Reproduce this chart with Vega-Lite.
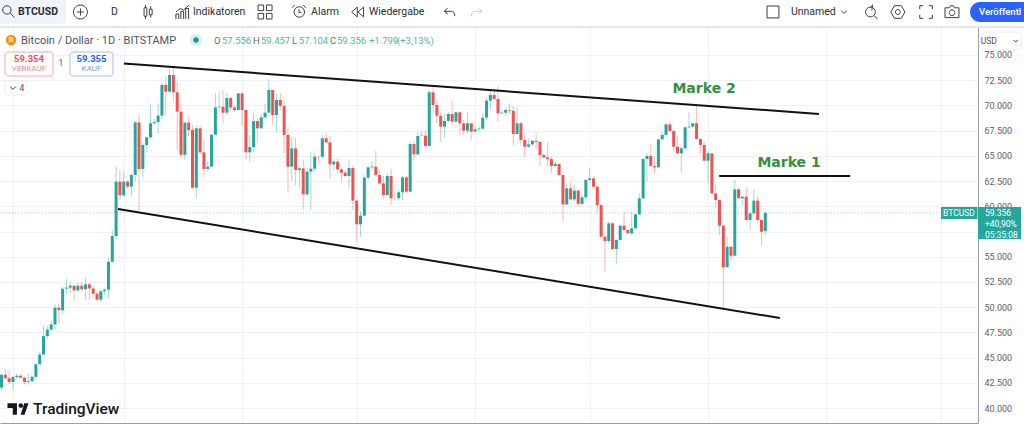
{
"$schema":"https://vega.github.io/schema/vega-lite/v6.json",
"width":978,"height":423,"autosize":{"type":"none"},"padding":{"left":0,"top":0,"right":46,"bottom":1},"background":"#ffffff",
"config":{"view":{"stroke":null},"font":"Roboto"},
"datasets":{
"candles":[
{"d":"2024-01-29","o":42030,"h":43400,"l":41780,"c":43300},{"d":"2024-01-30","o":43300,"h":43870,"l":42850,"c":42950},{"d":"2024-01-31","o":42950,"h":43700,"l":42400,"c":42580},{"d":"2024-02-01","o":42580,"h":43200,"l":41850,"c":43080},{"d":"2024-02-02","o":43080,"h":43420,"l":42900,"c":43200},{"d":"2024-02-03","o":43200,"h":43350,"l":42900,"c":43010},{"d":"2024-02-04","o":43010,"h":43100,"l":42350,"c":42580},{"d":"2024-02-05","o":42580,"h":43400,"l":42300,"c":42660},{"d":"2024-02-06","o":42660,"h":43300,"l":42600,"c":43090},{"d":"2024-02-07","o":43090,"h":44400,"l":42800,"c":44340},{"d":"2024-02-08","o":44340,"h":45600,"l":44300,"c":45300},{"d":"2024-02-09","o":45300,"h":48200,"l":45250,"c":47130},{"d":"2024-02-10","o":47130,"h":48150,"l":46900,"c":47770},{"d":"2024-02-11","o":47770,"h":48600,"l":47600,"c":48290},{"d":"2024-02-12","o":48290,"h":50300,"l":47800,"c":49950},{"d":"2024-02-13","o":49950,"h":50400,"l":48400,"c":49700},{"d":"2024-02-14","o":49700,"h":52000,"l":49300,"c":51830},{"d":"2024-02-15","o":51830,"h":52800,"l":51300,"c":51940},{"d":"2024-02-16","o":51940,"h":52600,"l":51400,"c":52130},{"d":"2024-02-17","o":52130,"h":52200,"l":50700,"c":51660},{"d":"2024-02-18","o":51660,"h":52400,"l":51500,"c":52120},{"d":"2024-02-19","o":52120,"h":52500,"l":51550,"c":51780},{"d":"2024-02-20","o":51780,"h":53000,"l":50700,"c":52260},{"d":"2024-02-21","o":52260,"h":52400,"l":50700,"c":51850},{"d":"2024-02-22","o":51850,"h":52050,"l":50900,"c":51320},{"d":"2024-02-23","o":51320,"h":51500,"l":50550,"c":50740},{"d":"2024-02-24","o":50740,"h":51700,"l":50500,"c":51570},{"d":"2024-02-25","o":51570,"h":51950,"l":51200,"c":51730},{"d":"2024-02-26","o":51730,"h":54900,"l":50900,"c":54500},{"d":"2024-02-27","o":54500,"h":57600,"l":54450,"c":57050},{"d":"2024-02-28","o":57050,"h":63930,"l":56700,"c":62440},{"d":"2024-02-29","o":62440,"h":63600,"l":60620,"c":61090},
{"d":"2024-03-01","o":61090,"h":63430,"l":60900,"c":62440},{"d":"2024-03-02","o":62440,"h":62600,"l":61700,"c":61950},{"d":"2024-03-03","o":61950,"h":63300,"l":61000,"c":63100},{"d":"2024-03-04","o":63100,"h":68400,"l":62500,"c":68320},{"d":"2024-03-05","o":68320,"h":69150,"l":59470,"c":63700},{"d":"2024-03-06","o":63700,"h":66300,"l":62870,"c":66080},{"d":"2024-03-07","o":66080,"h":66900,"l":65400,"c":66840},{"d":"2024-03-08","o":66840,"h":70100,"l":66700,"c":68230},{"d":"2024-03-09","o":68230,"h":68700,"l":68100,"c":68350},{"d":"2024-03-10","o":68350,"h":70200,"l":67170,"c":68990},{"d":"2024-03-11","o":68990,"h":72190,"l":68630,"c":72025},{"d":"2024-03-12","o":72025,"h":72850,"l":69050,"c":71360},{"d":"2024-03-13","o":71360,"h":73580,"l":71300,"c":73020},{"d":"2024-03-14","o":73020,"h":73840,"l":70370,"c":71300},{"d":"2024-03-15","o":71300,"h":72350,"l":65580,"c":69380},{"d":"2024-03-16","o":69380,"h":70240,"l":64920,"c":65100},{"d":"2024-03-17","o":65100,"h":68400,"l":64590,"c":68290},{"d":"2024-03-18","o":68290,"h":68880,"l":66900,"c":67560},{"d":"2024-03-19","o":67560,"h":68060,"l":61780,"c":61840},{"d":"2024-03-20","o":61840,"h":68060,"l":60790,"c":67730},{"d":"2024-03-21","o":67730,"h":68000,"l":65250,"c":65350},{"d":"2024-03-22","o":65350,"h":66570,"l":62930,"c":63700},{"d":"2024-03-23","o":63700,"h":64500,"l":63400,"c":63930},{"d":"2024-03-24","o":63930,"h":67100,"l":63900,"c":67100},{"d":"2024-03-25","o":67100,"h":71200,"l":67050,"c":69800},{"d":"2024-03-26","o":69800,"h":71400,"l":69500,"c":69870},{"d":"2024-03-27","o":69870,"h":71530,"l":68230,"c":69280},{"d":"2024-03-28","o":69280,"h":71200,"l":69000,"c":70740},{"d":"2024-03-29","o":70740,"h":70800,"l":69500,"c":69800},{"d":"2024-03-30","o":69800,"h":70000,"l":69400,"c":69550},{"d":"2024-03-31","o":69550,"h":71200,"l":69500,"c":71200},
{"d":"2024-04-01","o":71200,"h":71250,"l":68060,"c":69550},{"d":"2024-04-02","o":69550,"h":69600,"l":64590,"c":65350},{"d":"2024-04-03","o":65350,"h":67060,"l":64420,"c":65880},{"d":"2024-04-04","o":65880,"h":69220,"l":65400,"c":68450},{"d":"2024-04-05","o":68450,"h":68700,"l":66400,"c":67730},{"d":"2024-04-06","o":67730,"h":69150,"l":67700,"c":68820},{"d":"2024-04-07","o":68820,"h":70200,"l":68800,"c":69280},{"d":"2024-04-08","o":69280,"h":72620,"l":69250,"c":71530},{"d":"2024-04-09","o":71530,"h":71530,"l":68060,"c":69050},{"d":"2024-04-10","o":69050,"h":71200,"l":67400,"c":70540},{"d":"2024-04-11","o":70540,"h":71200,"l":69500,"c":69950},{"d":"2024-04-12","o":69950,"h":70500,"l":65280,"c":67070},{"d":"2024-04-13","o":67070,"h":67900,"l":61320,"c":63930},{"d":"2024-04-14","o":63930,"h":66900,"l":62500,"c":65745},{"d":"2024-04-15","o":65745,"h":66800,"l":62110,"c":63600},{"d":"2024-04-16","o":63600,"h":64000,"l":61800,"c":63760},{"d":"2024-04-17","o":63760,"h":64600,"l":59700,"c":61185},{"d":"2024-04-18","o":61185,"h":63800,"l":61000,"c":63430},{"d":"2024-04-19","o":63430,"h":65400,"l":59630,"c":63730},{"d":"2024-04-20","o":63730,"h":65250,"l":63430,"c":64920},{"d":"2024-04-21","o":64920,"h":65000,"l":64260,"c":64900},{"d":"2024-04-22","o":64900,"h":67070,"l":64755,"c":66740},{"d":"2024-04-23","o":66740,"h":67170,"l":66240,"c":66340},{"d":"2024-04-24","o":66340,"h":66970,"l":62770,"c":64160},{"d":"2024-04-25","o":64160,"h":64755,"l":63600,"c":64420},{"d":"2024-04-26","o":64420,"h":64755,"l":63270,"c":63660},{"d":"2024-04-27","o":63660,"h":63760,"l":62440,"c":63330},{"d":"2024-04-28","o":63330,"h":63600,"l":62870,"c":63000},{"d":"2024-04-29","o":63000,"h":64590,"l":61780,"c":63800},{"d":"2024-04-30","o":63800,"h":64000,"l":59630,"c":60560},
{"d":"2024-05-01","o":60560,"h":60600,"l":56490,"c":58210},{"d":"2024-05-02","o":58210,"h":59500,"l":56990,"c":59070},{"d":"2024-05-03","o":59070,"h":63100,"l":59000,"c":62840},{"d":"2024-05-04","o":62840,"h":64000,"l":62600,"c":63860},{"d":"2024-05-05","o":63860,"h":64500,"l":63600,"c":63930},{"d":"2024-05-06","o":63930,"h":65480,"l":62940,"c":63100},{"d":"2024-05-07","o":63100,"h":63600,"l":62110,"c":62270},{"d":"2024-05-08","o":62270,"h":63000,"l":60790,"c":61120},{"d":"2024-05-09","o":61120,"h":63270,"l":61000,"c":63000},{"d":"2024-05-10","o":63000,"h":63760,"l":60130,"c":60790},{"d":"2024-05-11","o":60790,"h":61450,"l":60620,"c":60800},{"d":"2024-05-12","o":60800,"h":61620,"l":60560,"c":61380},{"d":"2024-05-13","o":61380,"h":63000,"l":60620,"c":62870},{"d":"2024-05-14","o":62870,"h":63000,"l":61290,"c":61450},{"d":"2024-05-15","o":61450,"h":66400,"l":61350,"c":66175},{"d":"2024-05-16","o":66175,"h":66500,"l":64590,"c":65150},{"d":"2024-05-17","o":65150,"h":67400,"l":65080,"c":66970},{"d":"2024-05-18","o":66970,"h":67460,"l":66900,"c":67000},{"d":"2024-05-19","o":67000,"h":67560,"l":65850,"c":65980},{"d":"2024-05-20","o":65980,"h":71530,"l":65880,"c":71300},{"d":"2024-05-21","o":71300,"h":71860,"l":69220,"c":70040},{"d":"2024-05-22","o":70040,"h":70540,"l":68225,"c":68985},{"d":"2024-05-23","o":68985,"h":69380,"l":66400,"c":67895},{"d":"2024-05-24","o":67895,"h":69220,"l":66740,"c":68460},{"d":"2024-05-25","o":68460,"h":69380,"l":68390,"c":69150},{"d":"2024-05-26","o":69150,"h":70470,"l":68060,"c":68390},{"d":"2024-05-27","o":68390,"h":69380,"l":68320,"c":69320},{"d":"2024-05-28","o":69320,"h":69380,"l":67070,"c":68225},{"d":"2024-05-29","o":68225,"h":68555,"l":67070,"c":67500},{"d":"2024-05-30","o":67500,"h":69380,"l":67230,"c":68225},{"d":"2024-05-31","o":68225,"h":68225,"l":66570,"c":67400},
{"d":"2024-06-01","o":67400,"h":67900,"l":67300,"c":67630},{"d":"2024-06-02","o":67630,"h":67900,"l":67400,"c":67700},{"d":"2024-06-03","o":67700,"h":69200,"l":67550,"c":68786},{"d":"2024-06-04","o":68786,"h":70700,"l":68500,"c":70470},{"d":"2024-06-05","o":70470,"h":71530,"l":69550,"c":71030},{"d":"2024-06-06","o":71030,"h":71530,"l":70540,"c":70640},{"d":"2024-06-07","o":70640,"h":71926,"l":68390,"c":69216},{"d":"2024-06-08","o":69216,"h":69550,"l":69150,"c":69280},{"d":"2024-06-09","o":69280,"h":69710,"l":69050,"c":69550},{"d":"2024-06-10","o":69550,"h":70140,"l":69150,"c":69480},{"d":"2024-06-11","o":69480,"h":69940,"l":66080,"c":67170},{"d":"2024-06-12","o":67170,"h":69880,"l":67070,"c":68225},{"d":"2024-06-13","o":68225,"h":68390,"l":66080,"c":66570},{"d":"2024-06-14","o":66570,"h":67230,"l":64920,"c":65910},{"d":"2024-06-15","o":65910,"h":66730,"l":65810,"c":66140},{"d":"2024-06-16","o":66140,"h":66570,"l":65980,"c":66500},{"d":"2024-06-17","o":66500,"h":67230,"l":65580,"c":66380},{"d":"2024-06-18","o":66380,"h":66470,"l":63990,"c":65085},{"d":"2024-06-19","o":65085,"h":65250,"l":64750,"c":64850},{"d":"2024-06-20","o":64850,"h":66400,"l":63930,"c":64680},{"d":"2024-06-21","o":64680,"h":64920,"l":63330,"c":63990},{"d":"2024-06-22","o":63990,"h":64420,"l":63860,"c":64190},{"d":"2024-06-23","o":64190,"h":64260,"l":63100,"c":63100},{"d":"2024-06-24","o":63100,"h":63100,"l":58475,"c":60190},{"d":"2024-06-25","o":60190,"h":62270,"l":60130,"c":61780},{"d":"2024-06-26","o":61780,"h":62340,"l":60620,"c":60690},{"d":"2024-06-27","o":60690,"h":62110,"l":60460,"c":61550},{"d":"2024-06-28","o":61550,"h":61680,"l":59960,"c":60230},{"d":"2024-06-29","o":60230,"h":61120,"l":60130,"c":60885},{"d":"2024-06-30","o":60885,"h":62770,"l":60690,"c":62610},
{"d":"2024-07-01","o":62610,"h":63760,"l":62440,"c":62770},{"d":"2024-07-02","o":62770,"h":62940,"l":61780,"c":61945},{"d":"2024-07-03","o":61945,"h":62010,"l":59300,"c":60125},{"d":"2024-07-04","o":60125,"h":60200,"l":56800,"c":56990},{"d":"2024-07-05","o":56990,"h":57000,"l":53520,"c":56560},{"d":"2024-07-06","o":56560,"h":58480,"l":56330,"c":58310},{"d":"2024-07-07","o":58310,"h":58380,"l":55660,"c":55760},{"d":"2024-07-08","o":55760,"h":56723,"l":54345,"c":56660},{"d":"2024-07-09","o":56660,"h":58150,"l":56590,"c":58080},{"d":"2024-07-10","o":58080,"h":59470,"l":57480,"c":57650},{"d":"2024-07-11","o":57650,"h":57750,"l":57250,"c":57320},{"d":"2024-07-12","o":57320,"h":59470,"l":57150,"c":57820},{"d":"2024-07-13","o":57820,"h":59300,"l":57650,"c":59200},{"d":"2024-07-14","o":59200,"h":61280,"l":59100,"c":60790},{"d":"2024-07-15","o":60790,"h":64750,"l":60700,"c":64690},{"d":"2024-07-16","o":64690,"h":65250,"l":62440,"c":64990},{"d":"2024-07-17","o":64990,"h":66077,"l":63920,"c":63995},{"d":"2024-07-18","o":63995,"h":64920,"l":63270,"c":63860},{"d":"2024-07-19","o":63860,"h":66640,"l":63830,"c":66640},{"d":"2024-07-20","o":66640,"h":67400,"l":66570,"c":67070},{"d":"2024-07-21","o":67070,"h":68225,"l":67070,"c":68125},{"d":"2024-07-22","o":68125,"h":68390,"l":67400,"c":67465},{"d":"2024-07-23","o":67465,"h":67565,"l":65420,"c":65910},{"d":"2024-07-24","o":65910,"h":66900,"l":65250,"c":65250},{"d":"2024-07-25","o":65250,"h":65900,"l":63370,"c":65745},{"d":"2024-07-26","o":65745,"h":67900,"l":65650,"c":67830},{"d":"2024-07-27","o":67830,"h":69280,"l":67730,"c":67900},{"d":"2024-07-28","o":67900,"h":68225,"l":67790,"c":68225},{"d":"2024-07-29","o":68225,"h":69940,"l":66640,"c":66670},{"d":"2024-07-30","o":66670,"h":66740,"l":65250,"c":66075},{"d":"2024-07-31","o":66075,"h":66410,"l":64420,"c":64520},
{"d":"2024-08-01","o":64520,"h":65420,"l":62280,"c":65250},{"d":"2024-08-02","o":65250,"h":65250,"l":61220,"c":61285},{"d":"2024-08-03","o":61285,"h":62110,"l":59900,"c":60620},{"d":"2024-08-04","o":60620,"h":60650,"l":57150,"c":58080},{"d":"2024-08-05","o":58080,"h":58150,"l":49717,"c":53950},{"d":"2024-08-06","o":53950,"h":56990,"l":53950,"c":55990},{"d":"2024-08-07","o":55990,"h":55990,"l":54670,"c":55100},{"d":"2024-08-08","o":55100,"h":62600,"l":55050,"c":61680},{"d":"2024-08-09","o":61680,"h":61780,"l":60790,"c":60790},{"d":"2024-08-10","o":60790,"h":60950,"l":60130,"c":60950},{"d":"2024-08-11","o":60950,"h":61780,"l":58590,"c":58640},{"d":"2024-08-12","o":58640,"h":59450,"l":57650,"c":59300},{"d":"2024-08-13","o":59300,"h":61615,"l":59100,"c":60560},{"d":"2024-08-14","o":60560,"h":61000,"l":58300,"c":58640},{"d":"2024-08-15","o":58640,"h":58640,"l":56160,"c":57480},{"d":"2024-08-16","o":57556,"h":59457,"l":57104,"c":59356}
],
"trend":[
{"id":"oben","d":"2024-03-01T01:00:00Z","p":74157},{"id":"oben","d":"2024-08-30T01:00:00Z","p":69150},
{"id":"unten","d":"2024-02-28T12:00:00Z","p":59731},{"id":"unten","d":"2024-08-19T19:00:00Z","p":48924},
{"id":"marke1","d":"2024-08-03T22:00:00Z","p":63003},{"id":"marke1","d":"2024-09-07T05:00:00Z","p":63003}
],
"marke":[{"t":"Marke 2","d":"2024-07-30T23:00:00Z","p":71630},{"t":"Marke 1","d":"2024-08-22T05:00:00Z","p":64290}],
"band":[{"d":"2024-01-28T14:24:00Z","d2":"2024-10-22T17:30:00Z","p":80453,"p2":77875}],
"border":[{"d":"2024-01-28T14:24:00Z","d2":"2024-10-22T17:30:00Z","p":77875,"p2":77677}],
"search":[{"d":"2024-01-28T14:24:00Z","d2":"2024-02-14T21:00:00Z","p":80453,"p2":78073}],
"button":[{"d":"2024-10-08T14:24:00Z","d2":"2024-10-25T00:00:00Z","p":80255,"p2":78272}],
"sellbox":[{"d":"2024-01-29T22:00:00Z","d2":"2024-02-11T11:30:00Z","p":75297,"p2":72918}],
"buybox":[{"d":"2024-02-15T22:20:00Z","d2":"2024-02-27T04:30:00Z","p":75297,"p2":72918}],
"chipbox":[{"d":"2024-01-29T22:00:00Z","d2":"2024-02-04T16:00:00Z","p":72422,"p2":71034},{"d":"2024-10-11T11:00:00Z","d2":"2024-10-21T23:00:00Z","p":77280,"p2":75496}],
"tags":[{"d":"2024-10-01T00:00:00Z","d2":"2024-10-10T13:30:00Z","p":59929,"p2":58739},{"d":"2024-10-10T16:30:00Z","d2":"2024-10-21T23:00:00Z","p":59929,"p2":56757}],
"tool":[{"t":"D","d":"2024-02-26T16:00:00Z","p":79263},{"t":"Indikatoren","d":"2024-03-19T03:00:00Z","p":79263},{"t":"Alarm","d":"2024-04-19T01:00:00Z","p":79263},{"t":"Wiedergabe","d":"2024-05-04T05:00:00Z","p":79263},{"t":"Unnamed","d":"2024-08-22T17:00:00Z","p":79263}],
"tool2":[{"t":"BTCUSD","d":"2024-02-02T07:30:00Z","p":79263}],
"publish":[{"t":"Veröffentl","d":"2024-10-10T23:00:00Z","p":79263}],
"title":[{"t":"Bitcoin / Dollar · 1D · BITSTAMP","d":"2024-02-03T02:30:00Z","p":76388}],
"ohlcKey":[{"t":"O","d":"2024-03-24T15:30:00Z","p":76388},{"t":"H","d":"2024-04-03T20:30:00Z","p":76388},{"t":"L","d":"2024-04-14T01:30:00Z","p":76388},{"t":"C","d":"2024-04-24T00:15:00Z","p":76388}],
"ohlcVal":[{"t":"57.556","d":"2024-03-26T17:30:00Z","p":76388},{"t":"59.457","d":"2024-04-05T22:30:00Z","p":76388},{"t":"57.104","d":"2024-04-15T21:30:00Z","p":76388},{"t":"59.356","d":"2024-04-25T20:00:00Z","p":76388},{"t":"+1.799","d":"2024-05-04T05:00:00Z","p":76388},{"t":"(+3,13%)","d":"2024-05-11T13:00:00Z","p":76388}],
"sell":[{"t":"59.354","d":"2024-02-05T04:30:00Z","p":74603}],
"sellLab":[{"t":"VERKAUF","d":"2024-02-05T04:30:00Z","p":73612}],
"buy":[{"t":"59.355","d":"2024-02-21T13:30:00Z","p":74603}],
"buyLab":[{"t":"KAUF","d":"2024-02-21T13:30:00Z","p":73612}],
"small":[{"t":"1","d":"2024-02-13T13:30:00Z","p":74207},{"t":"4","d":"2024-02-03T08:30:00Z","p":71728},{"t":"USD","d":"2024-10-13T12:00:00Z","p":76388}],
"tagText":[{"t":"BTCUSD","d":"2024-10-05T17:00:00Z","p":59334}],
"tagVals":[{"t":"59.356","d":"2024-10-12T12:00:00Z","p":59285},{"t":"+40,90%","d":"2024-10-12T12:00:00Z","p":58200},{"t":"05:35:08","d":"2024-10-12T12:00:00Z","p":57200}],
"brand":[{"t":"TradingView","d":"2024-02-06T06:00:00Z","p":39900}],
"icons":[
{"d":"2024-01-30T23:00:00Z","p":79263,"s":"M-0.9,-0.3A0.6,0.6 0 1 1 0.3,-0.3A0.6,0.6 0 1 1 -0.9,-0.3M0.15,0.15L0.8,0.8"},
{"d":"2024-02-18T16:00:00Z","p":79263,"s":"M-1,0A1,1 0 1 1 1,0A1,1 0 1 1 -1,0M-0.5,0H0.5M0,-0.5V0.5"},
{"d":"2024-03-07T08:00:00Z","p":79263,"s":"M-0.55,-0.6h0.4v1.2h-0.4zM-0.35,-1V-0.6M-0.35,0.6V1M0.2,-0.4h0.4v0.8h-0.4zM0.4,-0.8V-0.4M0.4,0.4V0.8"},
{"d":"2024-03-16T12:00:00Z","p":79263,"s":"M-1,1V0.3H-0.6V1M-0.3,1V-0.1H0.1V1M0.4,1V-0.5H0.8V1M-1,0L-0.4,-0.5L0.1,-0.3L0.9,-1"},
{"d":"2024-04-07T00:00:00Z","p":79263,"s":"M-1,-1h0.8v0.8h-0.8zM0.2,-1h0.8v0.8h-0.8zM-1,0.2h0.8v0.8h-0.8zM0.2,0.2h0.8v0.8h-0.8z"},
{"d":"2024-04-15T21:00:00Z","p":79263,"s":"M-0.7,0A0.75,0.75 0 1 1 0.8,0A0.75,0.75 0 1 1 -0.7,0M0,-0.4V0.05H0.35M-1,-0.6L-0.6,-1M1,-0.6L0.6,-1"},
{"d":"2024-05-01T08:00:00Z","p":79263,"s":"M-0.1,-0.7L-0.9,0L-0.1,0.7zM0.8,-0.7L0,0L0.8,0.7z"},
{"d":"2024-05-25T05:00:00Z","p":79263,"s":"M-0.7,-0.1L-0.2,-0.6M-0.7,-0.1L-0.2,0.3M-0.7,-0.1H0.3Q0.8,-0.1 0.8,0.6"},
{"d":"2024-08-18T00:00:00Z","p":79263,"s":"M-0.85,-0.85h1.7v1.7h-1.7z"},
{"d":"2024-09-05T14:00:00Z","p":79263,"s":"M-0.4,-0.2L0,0.2L0.4,-0.2"},
{"d":"2024-09-12T17:00:00Z","p":79263,"s":"M-0.8,0A0.7,0.7 0 1 1 0.6,0A0.7,0.7 0 1 1 -0.8,0M0.4,0.5L0.9,1M-0.1,-0.7L0.2,-1L0.1,-0.2"},
{"d":"2024-09-19T17:00:00Z","p":79263,"s":"M-1,0L-0.5,-0.9H0.5L1,0L0.5,0.9H-0.5zM-0.35,0A0.35,0.35 0 1 1 0.35,0A0.35,0.35 0 1 1 -0.35,0"},
{"d":"2024-09-27T02:00:00Z","p":79263,"s":"M-0.9,-0.4V-0.9H-0.4M0.4,-0.9H0.9V-0.4M0.9,0.4V0.9H0.4M-0.4,0.9H-0.9V0.4"},
{"d":"2024-10-03T21:00:00Z","p":79263,"s":"M-1,-0.6H-0.4L-0.2,-0.9H0.2L0.4,-0.6H1V0.8H-1zM-0.4,0.1A0.4,0.4 0 1 1 0.4,0.1A0.4,0.4 0 1 1 -0.4,0.1"},
{"d":"2024-02-01T00:00:00Z","p":71728,"s":"M-0.4,-0.2L0,0.2L0.4,-0.2"},
{"d":"2024-10-20T14:00:00Z","p":76388,"s":"M-0.3,-0.15L0,0.15L0.3,-0.15"}
],
"iconFaint":[{"d":"2024-06-01T12:00:00Z","p":79263,"s":"M0.7,-0.1L0.2,-0.6M0.7,-0.1L0.2,0.3M0.7,-0.1H-0.3Q-0.8,-0.1 -0.8,0.6"}],
"logo":[{"d":"2024-02-02T07:30:00Z","p":39900,"s":"M-1,-0.55H-0.1V0.55H-0.5V-0.1H-1zM0.05,-0.33A0.22,0.22 0 1 1 0.49,-0.33A0.22,0.22 0 1 1 0.05,-0.33M0.25,0.55L0.6,-0.55H1L0.62,0.55z"}],
"coin":[{"d":"2024-01-31T12:00:00Z","p":76487}],
"coinD":[{"t":"B","d":"2024-01-31T12:00:00Z","p":76487}],
"live":[{"d":"2024-03-19T22:00:00Z","p":76487}],
"last":[{"p":59356}]
},
"encoding":{
"x":{"field":"d","type":"temporal","scale":{"type":"utc","padding":0,"nice":false,"domain":["2024-01-28T14:24:00Z","2024-10-10T16:30:00Z"]},"axis":{"title":null,"labels":false,"ticks":false,"domain":true,"domainColor":"#9a9ea8","domainWidth":1,"grid":true,"gridColor":"#eef2f6","gridWidth":1,"values":["2024-02-01","2024-03-01","2024-04-01","2024-05-01","2024-06-01","2024-07-01","2024-08-01","2024-09-01","2024-10-01"]}},
"y":{"field":"p","type":"quantitative","scale":{"domain":[38513,80453],"nice":false,"zero":false},"axis":{"orient":"right","title":null,"ticks":false,"domain":true,"domainColor":"#9a9ea8","domainWidth":1,"grid":true,"gridColor":"#eef2f6","gridWidth":1,"labelFont":"Roboto","labelFontSize":9,"labelColor":"#5d606b","labelPadding":6,"values":[40000,42500,45000,47500,50000,52500,55000,57500,60000,62500,65000,67500,70000,72500,75000],"labelExpr":"replace(format(datum.value,','),',','.')"}}
},
"layer":[
{"data":{"name":"last"},"mark":{"type":"rule","color":"#26a69a","strokeDash":[1,2],"opacity":0.45,"strokeWidth":1},"encoding":{"x":{"value":0},"x2":{"value":978}}},
{"data":{"name":"candles"},"mark":{"type":"rule","strokeWidth":1,"opacity":0.42},"encoding":{"y":{"field":"l","type":"quantitative","scale":{"domain":[38513,80453],"nice":false,"zero":false},"axis":{"orient":"right","title":null,"ticks":false,"domain":true,"domainColor":"#9a9ea8","domainWidth":1,"grid":true,"gridColor":"#eef2f6","gridWidth":1,"labelFont":"Roboto","labelFontSize":9,"labelColor":"#5d606b","labelPadding":6,"values":[40000,42500,45000,47500,50000,52500,55000,57500,60000,62500,65000,67500,70000,72500,75000],"labelExpr":"replace(format(datum.value,','),',','.')"}},"y2":{"field":"h"},"color":{"condition":{"test":"datum.c>=datum.o","value":"#26a69a"},"value":"#ef5350"}}},
{"data":{"name":"candles"},"mark":{"type":"bar","size":3},"encoding":{"y":{"field":"o","type":"quantitative","scale":{"domain":[38513,80453],"nice":false,"zero":false},"axis":{"orient":"right","title":null,"ticks":false,"domain":true,"domainColor":"#9a9ea8","domainWidth":1,"grid":true,"gridColor":"#eef2f6","gridWidth":1,"labelFont":"Roboto","labelFontSize":9,"labelColor":"#5d606b","labelPadding":6,"values":[40000,42500,45000,47500,50000,52500,55000,57500,60000,62500,65000,67500,70000,72500,75000],"labelExpr":"replace(format(datum.value,','),',','.')"}},"y2":{"field":"c"},"color":{"condition":{"test":"datum.c>=datum.o","value":"#26a69a"},"value":"#ef5350"}}},
{"data":{"name":"trend"},"mark":{"type":"line","color":"#111111","strokeWidth":2},"encoding":{"detail":{"field":"id"}}},
{"data":{"name":"marke"},"mark":{"type":"text","font":"DejaVu Sans","fontWeight":"bold","fontSize":14,"color":"#35903c","align":"center","baseline":"middle"},"encoding":{"text":{"field":"t"}}},
{"data":{"name":"band"},"mark":{"type":"rect","color":"#ffffff"},"encoding":{"x2":{"field":"d2"},"y2":{"field":"p2"}}},
{"data":{"name":"border"},"mark":{"type":"rect","color":"#e2e5ec"},"encoding":{"x2":{"field":"d2"},"y2":{"field":"p2"}}},
{"data":{"name":"search"},"mark":{"type":"rect","color":"#f0f3fa","cornerRadiusBottomRight":4},"encoding":{"x2":{"field":"d2"},"y2":{"field":"p2"}}},
{"data":{"name":"button"},"mark":{"type":"rect","color":"#2962ff","cornerRadius":10},"encoding":{"x2":{"field":"d2"},"y2":{"field":"p2"}}},
{"data":{"name":"sellbox"},"mark":{"type":"rect","fill":"#ffffff","stroke":"#f7a9a8","strokeWidth":1,"cornerRadius":3},"encoding":{"x2":{"field":"d2"},"y2":{"field":"p2"}}},
{"data":{"name":"buybox"},"mark":{"type":"rect","fill":"#ffffff","stroke":"#a6bcff","strokeWidth":1,"cornerRadius":3},"encoding":{"x2":{"field":"d2"},"y2":{"field":"p2"}}},
{"data":{"name":"chipbox"},"mark":{"type":"rect","fill":"#ffffff","stroke":"#e8eaf0","strokeWidth":1,"cornerRadius":3},"encoding":{"x2":{"field":"d2"},"y2":{"field":"p2"}}},
{"data":{"name":"tags"},"mark":{"type":"rect","color":"#26a69a"},"encoding":{"x2":{"field":"d2"},"y2":{"field":"p2"}}},
{"data":{"name":"icons"},"mark":{"type":"point","size":196,"filled":false,"stroke":"#3a3e48","strokeWidth":1,"opacity":1},"encoding":{"shape":{"field":"s","type":"nominal","scale":null}}},
{"data":{"name":"iconFaint"},"mark":{"type":"point","size":196,"filled":false,"stroke":"#c8cbd3","strokeWidth":1,"opacity":1},"encoding":{"shape":{"field":"s","type":"nominal","scale":null}}},
{"data":{"name":"logo"},"mark":{"type":"point","size":441,"filled":true,"fill":"#131722","opacity":1},"encoding":{"shape":{"field":"s","type":"nominal","scale":null}}},
{"data":{"name":"coin"},"mark":{"type":"point","shape":"circle","size":110,"filled":true,"fill":"#f7931a","opacity":1},"encoding":{}},
{"data":{"name":"coinD"},"mark":{"type":"text","fontSize":7,"fontWeight":"bold","color":"#ffffff","align":"center","baseline":"middle"},"encoding":{"text":{"field":"t"}}},
{"data":{"name":"live"},"mark":{"type":"point","shape":"circle","size":150,"filled":true,"fill":"#d9efec","opacity":1},"encoding":{}},
{"data":{"name":"live"},"mark":{"type":"point","shape":"circle","size":30,"filled":true,"fill":"#189a8c","opacity":1},"encoding":{}},
{"data":{"name":"tool"},"mark":{"type":"text","fontSize":10.5,"color":"#2a2e39","align":"left","baseline":"middle"},"encoding":{"text":{"field":"t"}}},
{"data":{"name":"tool2"},"mark":{"type":"text","fontSize":10.5,"fontWeight":"bold","color":"#2a2e39","align":"left","baseline":"middle"},"encoding":{"text":{"field":"t"}}},
{"data":{"name":"publish"},"mark":{"type":"text","fontSize":9.5,"fontWeight":500,"color":"#ffffff","align":"left","baseline":"middle"},"encoding":{"text":{"field":"t"}}},
{"data":{"name":"title"},"mark":{"type":"text","fontSize":11,"color":"#50535e","align":"left","baseline":"middle"},"encoding":{"text":{"field":"t"}}},
{"data":{"name":"ohlcKey"},"mark":{"type":"text","fontSize":9.5,"color":"#6a6d78","align":"left","baseline":"middle"},"encoding":{"text":{"field":"t"}}},
{"data":{"name":"ohlcVal"},"mark":{"type":"text","fontSize":9.5,"color":"#4db6a9","align":"left","baseline":"middle"},"encoding":{"text":{"field":"t"}}},
{"data":{"name":"sell"},"mark":{"type":"text","fontSize":9.5,"fontWeight":"bold","color":"#ef5350","align":"center","baseline":"middle"},"encoding":{"text":{"field":"t"}}},
{"data":{"name":"sellLab"},"mark":{"type":"text","fontSize":8,"color":"#f28b89","align":"center","baseline":"middle"},"encoding":{"text":{"field":"t"}}},
{"data":{"name":"buy"},"mark":{"type":"text","fontSize":9.5,"fontWeight":"bold","color":"#2962ff","align":"center","baseline":"middle"},"encoding":{"text":{"field":"t"}}},
{"data":{"name":"buyLab"},"mark":{"type":"text","fontSize":8,"color":"#7b9bff","align":"center","baseline":"middle"},"encoding":{"text":{"field":"t"}}},
{"data":{"name":"small"},"mark":{"type":"text","fontSize":8.5,"color":"#50535e","align":"center","baseline":"middle"},"encoding":{"text":{"field":"t"}}},
{"data":{"name":"tagText"},"mark":{"type":"text","fontSize":8.5,"color":"#ffffff","align":"center","baseline":"middle"},"encoding":{"text":{"field":"t"}}},
{"data":{"name":"tagVals"},"mark":{"type":"text","fontSize":8.5,"color":"#ffffff","align":"left","baseline":"middle"},"encoding":{"text":{"field":"t"}}},
{"data":{"name":"brand"},"mark":{"type":"text","fontSize":15.5,"fontWeight":500,"color":"#131722","align":"left","baseline":"middle"},"encoding":{"text":{"field":"t"}}}
]
}
